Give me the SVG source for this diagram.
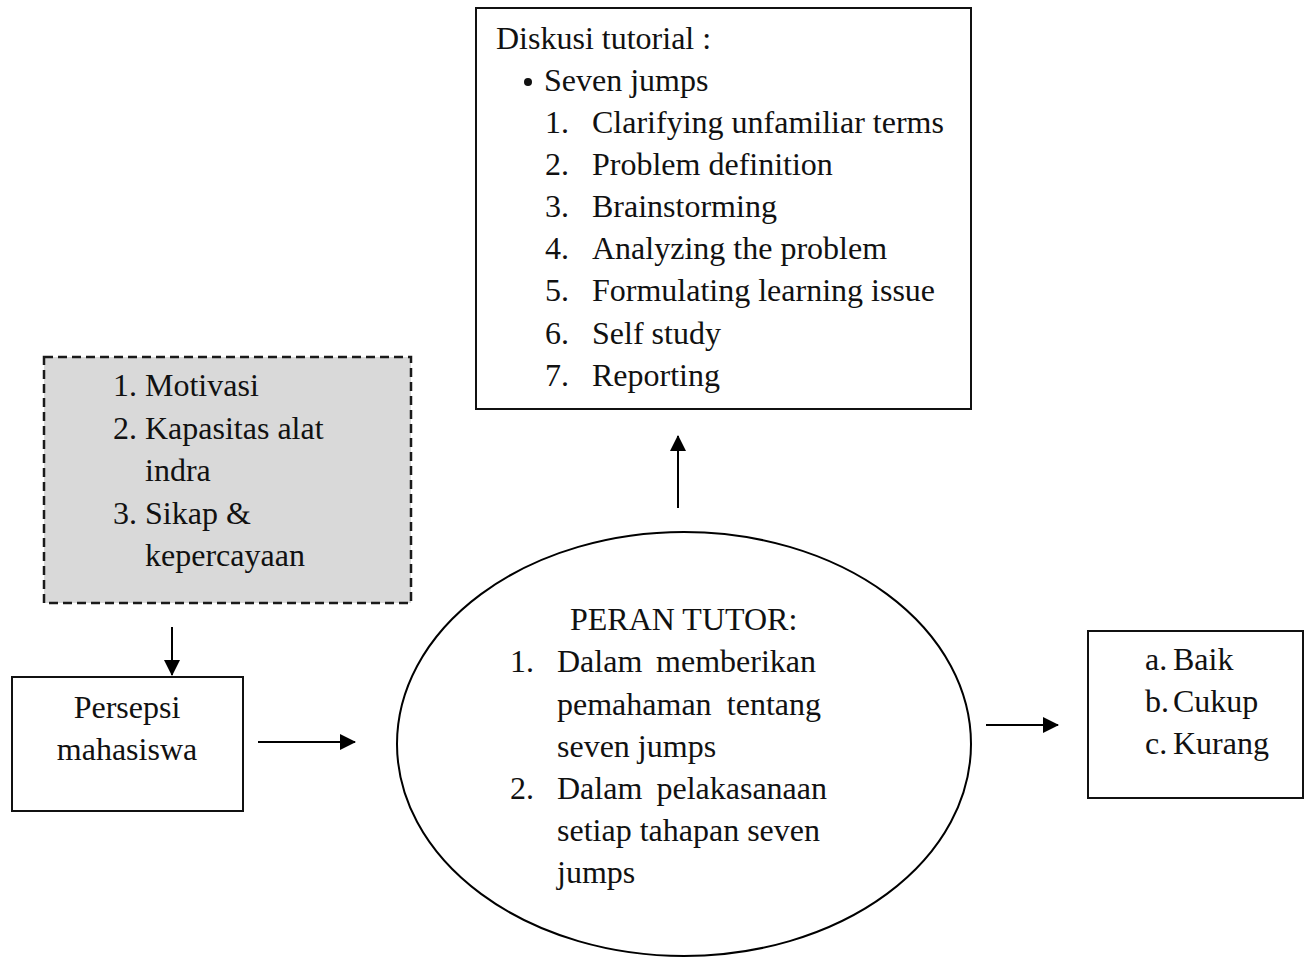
<svg xmlns="http://www.w3.org/2000/svg" width="1307" height="958" viewBox="0 0 1307 958">
<defs>
<style>
text{font-family:"Liberation Serif","Times New Roman",serif;font-size:32px;fill:#111}
.box{fill:#fff;stroke:#111;stroke-width:2}
.dash{fill:#d9d9d9;stroke:#1a1a1a;stroke-width:2.5;stroke-dasharray:9 5}
.conn{stroke:#000;stroke-width:2;fill:none}
</style>
<marker id="ah" viewBox="0 0 16 16" refX="15" refY="8" markerWidth="16" markerHeight="16" markerUnits="userSpaceOnUse" orient="auto">
<path d="M0,0 L16,8 L0,16 z" fill="#000"/>
</marker>
</defs>
<rect width="1307" height="958" fill="#fff"/>
<g id="diskusi">
<rect class="box" x="476" y="8" width="495" height="401"/>
<text x="496" y="49">Diskusi tutorial :</text>
<circle cx="528" cy="82" r="4" fill="#111"/>
<text x="544" y="91">Seven jumps</text>
<text x="545" y="133">1.</text><text x="592" y="133">Clarifying unfamiliar terms</text>
<text x="545" y="175">2.</text><text x="592" y="175">Problem definition</text>
<text x="545" y="217">3.</text><text x="592" y="217">Brainstorming</text>
<text x="545" y="259">4.</text><text x="592" y="259">Analyzing the problem</text>
<text x="545" y="301">5.</text><text x="592" y="301">Formulating learning issue</text>
<text x="545" y="344">6.</text><text x="592" y="344">Self study</text>
<text x="545" y="386">7.</text><text x="592" y="386">Reporting</text>
</g>
<g id="faktor">
<rect class="dash" x="44" y="357" width="367" height="246"/>
<text x="113" y="396">1.</text><text x="145" y="396">Motivasi</text>
<text x="113" y="439">2.</text><text x="145" y="439">Kapasitas alat</text>
<text x="145" y="481">indra</text>
<text x="113" y="524">3.</text><text x="145" y="524">Sikap &amp;</text>
<text x="145" y="566">kepercayaan</text>
</g>
<g id="persepsi">
<rect class="box" x="12" y="677" width="231" height="134"/>
<text x="127" y="718" text-anchor="middle">Persepsi</text>
<text x="127" y="760" text-anchor="middle">mahasiswa</text>
</g>
<g id="peran">
<ellipse cx="684" cy="744" rx="287" ry="212" fill="#fff" stroke="#000" stroke-width="2"/>
<text x="570" y="630">PERAN TUTOR:</text>
<text x="510" y="672">1.</text>
<text x="557" y="672">Dalam</text><text x="816" y="672" text-anchor="end">memberikan</text>
<text x="557" y="715">pemahaman</text><text x="821" y="715" text-anchor="end">tentang</text>
<text x="557" y="757">seven jumps</text>
<text x="510" y="799">2.</text>
<text x="557" y="799">Dalam</text><text x="827" y="799" text-anchor="end">pelakasanaan</text>
<text x="557" y="841">setiap tahapan seven</text>
<text x="557" y="883">jumps</text>
</g>
<g id="hasil">
<rect class="box" x="1088" y="631" width="215" height="167"/>
<text x="1145" y="670">a.</text><text x="1173" y="670">Baik</text>
<text x="1145" y="712">b.</text><text x="1173" y="712">Cukup</text>
<text x="1145" y="754">c.</text><text x="1173" y="754">Kurang</text>
</g>
<g id="connectors">
<line class="conn" x1="172" y1="627" x2="172" y2="675" marker-end="url(#ah)"/>
<line class="conn" x1="258" y1="742" x2="355" y2="742" marker-end="url(#ah)"/>
<line class="conn" x1="678" y1="508" x2="678" y2="436" marker-end="url(#ah)"/>
<line class="conn" x1="986" y1="725" x2="1058" y2="725" marker-end="url(#ah)"/>
</g>
</svg>
